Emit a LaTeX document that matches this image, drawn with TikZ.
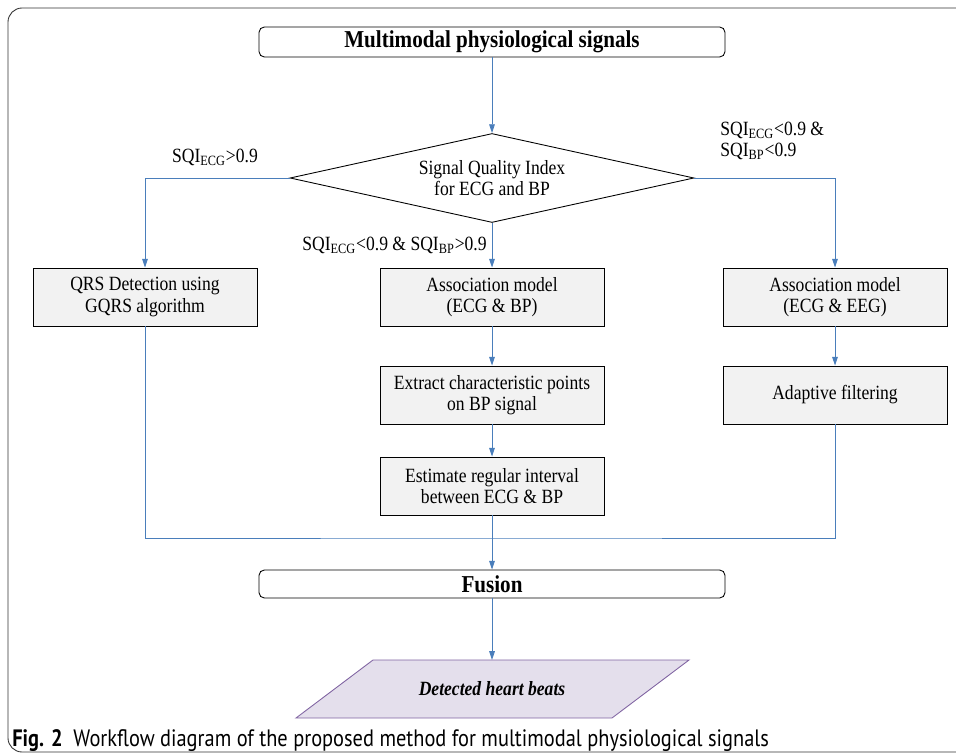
\documentclass[tikz,border=0pt]{standalone}
\usepackage{fontspec}
\setmainfont{Liberation Serif}[FakeStretch=0.87]
\newfontfamily\capfont{PT Sans}[FakeStretch=0.86]
\usetikzlibrary{shapes.geometric,arrows.meta}
\definecolor{linkblue}{HTML}{4A7EBB}
\definecolor{boxgray}{HTML}{F2F2F2}
\definecolor{beatsfill}{HTML}{E4DFEC}
\definecolor{beatsdraw}{HTML}{8064A2}

\begin{document}
\begin{tikzpicture}[
    x=0.02cm, y=-0.02cm,
    >={Triangle[length=5pt,width=3.2pt]},
    proc/.style={rectangle,draw=black,fill=boxgray,minimum width=4.48cm,minimum height=1.16cm,align=center,inner sep=1pt,line width=0.5pt,font=\fontsize{11.5}{12}\selectfont},
    term/.style={rectangle,rounded corners=3pt,draw=black,minimum width=9.32cm,minimum height=0.6cm,inner sep=1pt,line width=0.5pt,font=\fontsize{13.8}{15}\selectfont\bfseries},
    decide/.style={diamond,draw=black,aspect=4.5,minimum width=8.08cm,minimum height=1.78cm,inner sep=0pt,align=center,line width=0.5pt,font=\fontsize{11.5}{12}\selectfont},
    link/.style={draw=linkblue,line width=0.5pt},
    cond/.style={inner sep=0pt,align=left,font=\fontsize{11.5}{12}\selectfont},
    ]
    \useasboundingbox (0,0) rectangle (956,756);
    \clip (0,0) rectangle (956,756);
    \draw[rounded corners=8pt,draw=black!80,line width=0.5pt] (8,8) rectangle (990,752);

    \node[term] (signals) at (492,42) {Multimodal physiological signals};
    \node[decide] (sqi) at (492,178) {Signal Quality Index\\for ECG and BP};
    \node[proc] (qrs) at (145,297) {QRS Detection using\\GQRS algorithm};
    \node[proc] (assocbp) at (492,297) {Association model\\(ECG \& BP)};
    \node[proc] (assoceeg) at (835,297) {Association model\\(ECG \& EEG)};
    \node[proc] (extract) at (492,395) {Extract characteristic points\\on BP signal};
    \node[proc] (adaptive) at (835,395) {Adaptive filtering};
    \node[proc] (interval) at (492,486) {Estimate regular interval\\between ECG \& BP};
    \node[term,minimum height=0.56cm] (fusion) at (492,584) {Fusion};

    % output parallelogram
    \draw[fill=beatsfill,draw=beatsdraw,line width=0.5pt] (373,660) -- (689,660) -- (612,718) -- (296,718) -- cycle;
    \coordinate (beatstop) at (492,660);
    \node[inner sep=0pt,font=\fontsize{11.5}{12}\selectfont\bfseries\itshape] (beats) at (492,689) {Detected heart beats};

    \node[cond] (condecg) at (215,157) {SQI\textsubscript{ECG}>0.9};
    \node[cond,anchor=west] (condboth) at (720,141) {SQI\textsubscript{ECG}<0.9 \&\\SQI\textsubscript{BP}<0.9};
    \node[cond,anchor=east] (condbp) at (487,245) {SQI\textsubscript{ECG}<0.9 \& SQI\textsubscript{BP}>0.9};

    \draw[link,->] (signals) -- (sqi);
    \draw[link,->] (sqi.west) -| (qrs.north);
    \draw[link,->] (sqi.east) -| (assoceeg.north);
    \draw[link,->] (sqi.south) -- (assocbp.north);
    \draw[link,->] (assocbp) -- (extract);
    \draw[link,->] (extract) -- (interval);
    \draw[link,->] (assoceeg) -- (adaptive);
    \coordinate (merge) at (492,538);
    \draw[link] (qrs.south) |- (merge) -| (adaptive.south);
    \draw[link,->] (interval) -- (fusion);
    \draw[link,->] (fusion) -- (beatstop);

    \node[anchor=base west,inner sep=0pt,font=\capfont\fontsize{13.5}{15}\selectfont] (caption) at (12,746) {\textbf{Fig. 2}\ \ Workflow diagram of the proposed method for multimodal physiological signals};
\end{tikzpicture}
\end{document}
